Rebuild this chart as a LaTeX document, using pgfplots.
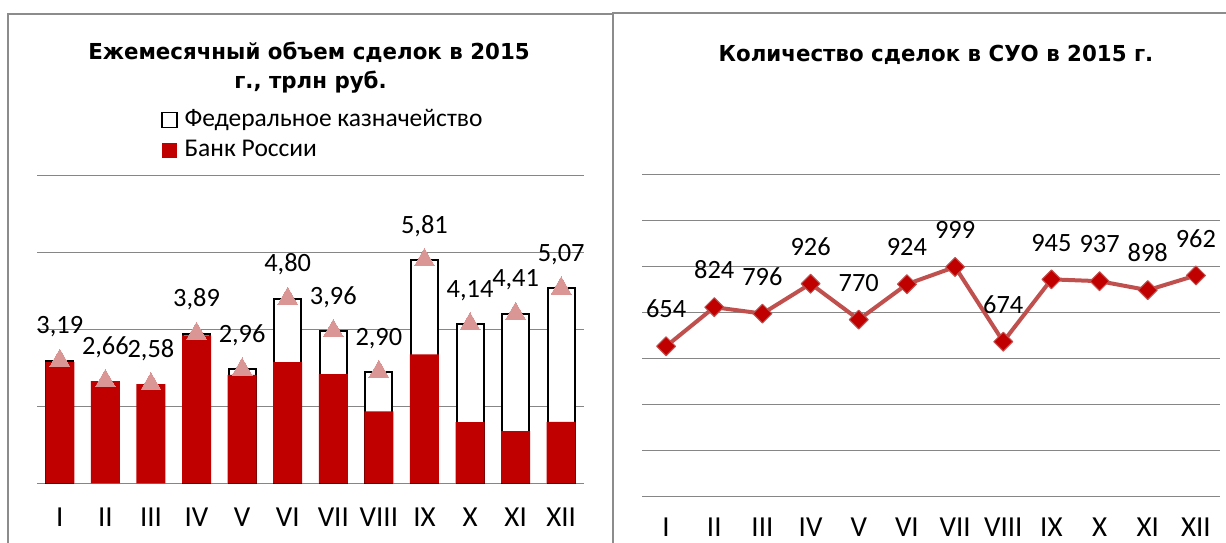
\documentclass[border=0pt]{standalone}
\usepackage{pgfplots}
\pgfplotsset{compat=1.18}
\usepackage{pgfplotstable}
\usepackage{fontspec}
\setmainfont{Carlito}
\newfontfamily\titlefont{DejaVu Sans}[FakeStretch=0.97]

\definecolor{barred}{RGB}{192,0,0}
\definecolor{tri}{RGB}{217,150,148}
\definecolor{linered}{RGB}{192,80,77}
\definecolor{gridgray}{RGB}{134,134,134}
\definecolor{framegray}{RGB}{140,140,140}

\pgfplotstableread{
x total red lab
0 3.19 3.15 3,19
1 2.66 2.66 2,66
2 2.58 2.58 2,58
3 3.89 3.85 3,89
4 2.96 2.82 2,96
5 4.80 3.15 4,80
6 3.96 2.84 3,96
7 2.90 1.87 2,90
8 5.81 3.35 5,81
9 4.14 1.59 4,14
10 4.41 1.36 4,41
11 5.07 1.60 5,07
}\volume

\pgfplotstableread{
x val
0 654
1 824
2 796
3 926
4 770
5 924
6 999
7 674
8 945
9 937
10 898
11 962
}\deals

\newcommand{\ttl}{\titlefont\bfseries\fontsize{22}{26}\selectfont}
\newcommand{\lbl}{\fontsize{26.4}{30}\selectfont}
\newcommand{\tck}{\fontsize{29}{34}\selectfont}

\begin{document}
\begin{tikzpicture}[x=1pt,y=1pt]
\path[use as bounding box] (0,0) rectangle (1226,542);
\draw[framegray, line width=2pt] (7.5,-5) -- (7.5,528) -- (613,528);
\draw[framegray, line width=2pt] (613,-5) -- (613,529.3) -- (1232,529.3);

\node[font=\ttl, anchor=base, inner sep=0pt] at (309,482.7) {Ежемесячный объем сделок в 2015};
\node[font=\ttl, anchor=base, inner sep=0pt] at (310.5,453) {г., трлн руб.};
\node[font=\ttl, anchor=base, inner sep=0pt] at (936,480.3) {Количество сделок в СУО в 2015 г.};

\begin{axis}[
  at={(37pt,58.7pt)}, anchor=south west, scale only axis,
  width=547pt, height=307.6pt,
  xmin=-0.5, xmax=11.5, ymin=0, ymax=8,
  ytick={0,2,4,6,8}, yticklabels={},
  xtick={0,...,11}, xticklabels={I,II,III,IV,V,VI,VII,VIII,IX,X,XI,XII},
  ymajorgrids, major grid style={gridgray, line width=1.5pt},
  axis line style={draw=none}, major tick length=0pt,
  xticklabel style={font=\tck, anchor=base, yshift=-43.4pt, inner sep=0pt},
  legend cell align=left,
  legend style={at={(0.2267,1.2168)}, anchor=north west, draw=none, fill=none,
    inner sep=0pt, outer sep=0pt, column sep=7pt, row sep=8.5pt,
    font=\fontsize{25.5}{30}\selectfont,
    nodes={inner sep=0pt, text height=17pt, text depth=5pt}},
]
\addplot[ybar, bar shift=0pt, bar width=27pt, fill=white, draw=black, line width=2pt,
  legend image code/.code={\draw[fill=white, draw=black, line width=1.5pt] (0pt,-7.5pt) rectangle (15pt,7.5pt);}]
  coordinates {(0,3.19) (3,3.89) (4,2.96) (5,4.80) (6,3.96) (7,2.90) (8,5.81) (9,4.14) (10,4.41) (11,5.07)};
\addlegendentry{Федеральное казначейство}
\addplot[ybar, bar shift=0pt, bar width=29pt, fill=barred, draw=none,
  legend image code/.code={\fill[barred] (0pt,-7.5pt) rectangle (15pt,7.5pt);}]
  table[x=x,y=red]{\volume};
\addlegendentry{Банк России}
\addplot[tri, only marks, mark=triangle*, mark size=11.5pt, mark options={fill=tri, draw=tri, line width=0pt}, forget plot,
  nodes near coords, point meta=explicit symbolic,
  nodes near coords style={black, font=\lbl, anchor=base, yshift=26.8pt, inner sep=0pt}]
  table[x=x,y=total,meta=lab]{\volume};
\end{axis}

\begin{axis}[
  at={(642pt,45.3pt)}, anchor=south west, scale only axis,
  width=578pt, height=322pt,
  xmin=-0.5, xmax=11.5, ymin=0, ymax=1400,
  ytick={0,200,...,1400}, yticklabels={},
  xtick={0,...,11}, xticklabels={I,II,III,IV,V,VI,VII,VIII,IX,X,XI,XII},
  ymajorgrids, major grid style={gridgray, line width=1.5pt},
  axis line style={draw=none}, major tick length=0pt,
  xticklabel style={font=\tck, anchor=base, yshift=-39.5pt, inner sep=0pt},
  clip=false,
]
\addplot[linered, line width=4pt, line join=round, mark=square*, mark size=6.7pt,
  mark options={rotate=45, fill=barred, draw=linered, line width=1pt},
  nodes near coords, point meta=explicit symbolic,
  nodes near coords style={black, font=\lbl, anchor=base, yshift=28.3pt, inner sep=0pt}]
  table[x=x,y=val,meta=val]{\deals};
\end{axis}
\end{tikzpicture}
\end{document}
